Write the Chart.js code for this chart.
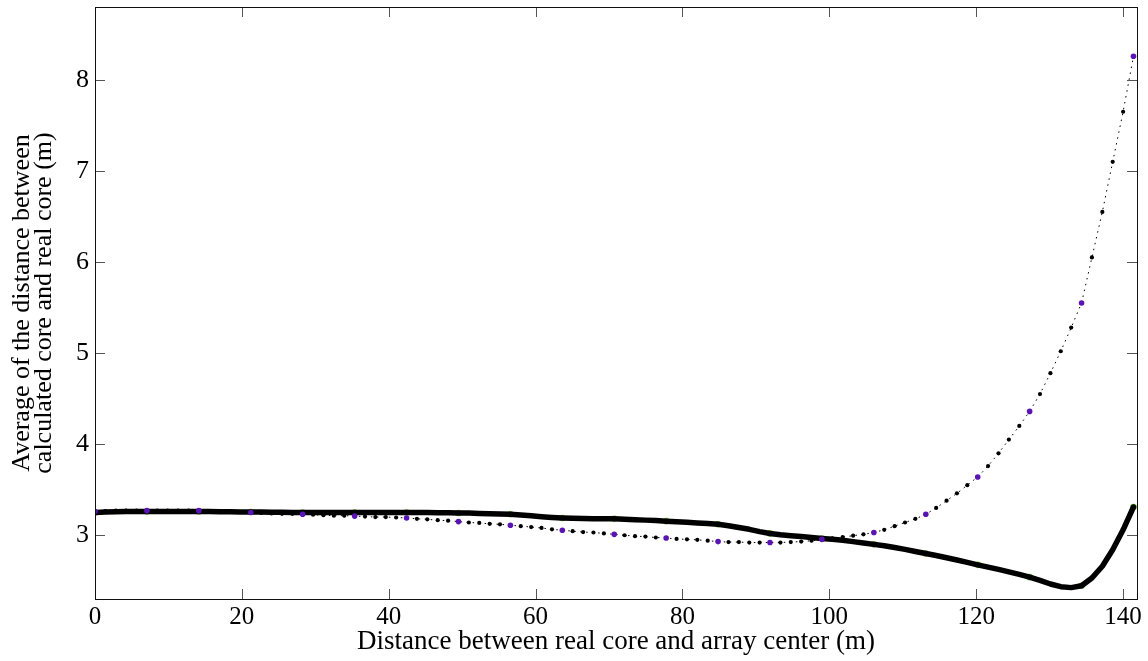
<!DOCTYPE html>
<html>
<head>
<meta charset="utf-8">
<script src="https://cdn.jsdelivr.net/npm/chart.js@4.4.0/dist/chart.umd.min.js"></script>
<style>
	body { margin: 0; background: #fff; }
	#wrap { width: 1148px; height: 661px; }
</style>
</head>
<body>
<div id="wrap"><canvas id="coreChart"></canvas></div>
<script>
// distance between real core and array center (m)
var distances = [
	0, 1.41, 2.83, 4.24, 5.66, 7.07, 8.49, 9.90, 11.31, 12.73,
	14.14, 15.56, 16.97, 18.38, 19.80, 21.21, 22.63, 24.04, 25.46, 26.87,
	28.28, 29.70, 31.11, 32.53, 33.94, 35.36, 36.77, 38.18, 39.60, 41.01,
	42.43, 43.84, 45.25, 46.67, 48.08, 49.50, 50.91, 52.33, 53.74, 55.15,
	56.57, 57.98, 59.40, 60.81, 62.23, 63.64, 65.05, 66.47, 67.88, 69.30,
	70.71, 72.12, 73.54, 74.95, 76.37, 77.78, 79.20, 80.61, 82.02, 83.44,
	84.85, 86.27, 87.68, 89.10, 90.51, 91.92, 93.34, 94.75, 96.17, 97.58,
	98.99, 100.41, 101.82, 103.24, 104.65, 106.07, 107.48, 108.89, 110.31, 111.72,
	113.14, 114.55, 115.97, 117.38, 118.79, 120.21, 121.62, 123.04, 124.45, 125.87,
	127.28, 128.69, 130.11, 131.52, 132.94, 134.35, 135.76, 137.18, 138.59, 140.01,
	141.42
]

// dotted curve
var dottedAvg = [
	3.26, 3.265, 3.27, 3.27, 3.27, 3.27, 3.27, 3.27, 3.27, 3.27,
	3.27, 3.265, 3.26, 3.26, 3.255, 3.25, 3.245, 3.24, 3.235, 3.235,
	3.23, 3.225, 3.22, 3.215, 3.215, 3.21, 3.205, 3.2, 3.2, 3.195,
	3.19, 3.18, 3.175, 3.165, 3.16, 3.15, 3.14, 3.135, 3.125, 3.12,
	3.11, 3.1, 3.09, 3.08, 3.065, 3.055, 3.045, 3.035, 3.03, 3.02,
	3.01, 3.0, 2.99, 2.985, 2.975, 2.97, 2.96, 2.955, 2.95, 2.94,
	2.93, 2.925, 2.925, 2.92, 2.92, 2.92, 2.92, 2.925, 2.93, 2.94,
	2.955, 2.965, 2.98, 2.995, 3.01, 3.03, 3.06, 3.1, 3.14, 3.18,
	3.23, 3.3, 3.38, 3.46, 3.55, 3.64, 3.76, 3.9, 4.05, 4.2,
	4.36, 4.55, 4.78, 5.02, 5.28, 5.55, 6.05, 6.55, 7.1, 7.65,
	8.26
]

// solid curve
var solidAvg = [
	3.25, 3.255, 3.258, 3.26, 3.26, 3.26, 3.26, 3.26, 3.26, 3.26,
	3.26, 3.26, 3.258, 3.257, 3.256, 3.255, 3.254, 3.253, 3.252, 3.251,
	3.25, 3.25, 3.25, 3.25, 3.25, 3.25, 3.25, 3.25, 3.25, 3.25,
	3.25, 3.25, 3.249, 3.248, 3.247, 3.245, 3.243, 3.24, 3.237, 3.234,
	3.23, 3.222, 3.213, 3.204, 3.196, 3.19, 3.186, 3.184, 3.182, 3.181,
	3.18, 3.176, 3.171, 3.166, 3.161, 3.155, 3.149, 3.142, 3.135, 3.128,
	3.12, 3.105, 3.085, 3.065, 3.04, 3.02, 3.005, 2.995, 2.985, 2.975,
	2.965, 2.955, 2.945, 2.93, 2.915, 2.9, 2.885, 2.865, 2.845, 2.822,
	2.8, 2.778, 2.753, 2.728, 2.702, 2.675, 2.65, 2.625, 2.598, 2.57,
	2.54, 2.505, 2.465, 2.435, 2.425, 2.445, 2.53, 2.66, 2.84, 3.06,
	3.31
]

var xTicks = [0, 20, 40, 60, 80, 100, 120, 140]
var yTicks = [3, 4, 5, 6, 7, 8]

function toPoints(xs, ys) {
	return xs.map(function (x, i) { return { x: x, y: ys[i] } })
}

var serif = "'Liberation Serif', 'Times New Roman', serif"

var frameTicks = {
	id: 'frameTicks',
	afterDraw: function (chart) {
		var ctx = chart.ctx
		var a = chart.chartArea
		var sx = chart.scales.x
		var sy = chart.scales.y
		ctx.save()
		ctx.strokeStyle = '#555'
		ctx.lineWidth = 1
		ctx.beginPath()
		xTicks.forEach(function (v) {
			var px = Math.round(sx.getPixelForValue(v)) + 0.5
			ctx.moveTo(px, a.bottom); ctx.lineTo(px, a.bottom - 10)
			ctx.moveTo(px, a.top); ctx.lineTo(px, a.top + 10)
		})
		yTicks.forEach(function (v) {
			var py = Math.round(sy.getPixelForValue(v)) + 0.5
			ctx.moveTo(a.left, py); ctx.lineTo(a.left + 10, py)
			ctx.moveTo(a.right, py); ctx.lineTo(a.right - 10, py)
		})
		ctx.stroke()
		ctx.strokeStyle = '#111'
		ctx.strokeRect(Math.round(a.left) + 0.5, Math.round(a.top) + 0.5, Math.round(a.right - a.left), Math.round(a.bottom - a.top))
		ctx.restore()
	}
}

new Chart(document.getElementById('coreChart'), {
	type: 'scatter',
	data: {
		datasets: [{
			label: 'dotted',
			data: toPoints(distances, dottedAvg),
			showLine: true,
			borderColor: '#000',
			borderWidth: 1,
			borderDash: [1.5, 4.5],
			pointRadius: function (c) { return c.dataIndex % 5 === 0 ? 2.8 : 2.1 },
			pointBackgroundColor: function (c) { return c.dataIndex % 5 === 0 ? '#5a14b4' : '#000' },
			pointBorderWidth: 0
		}, {
			label: 'solid',
			data: toPoints(distances, solidAvg),
			showLine: true,
			borderColor: '#000',
			borderWidth: 5.5,
			borderCapStyle: 'round',
			borderJoinStyle: 'round',
			pointRadius: 0
		}, {
			label: 'solid markers',
			data: toPoints(distances, solidAvg).filter(function (p, i) { return i % 5 === 0 }),
			showLine: false,
			pointRadius: 3.3,
			pointBackgroundColor: '#66b82e',
			pointBorderWidth: 0
		}]
	},
	options: {
		responsive: true,
		maintainAspectRatio: false,
		animation: false,
		devicePixelRatio: 1,
		layout: { padding: { top: 7, right: 11, left: 0, bottom: 0 } },
		plugins: { legend: { display: false }, tooltip: { enabled: false } },
		scales: {
			x: {
				type: 'linear',
				min: 0,
				max: 141.9,
				grid: { display: false, drawTicks: false },
				border: { display: false },
				afterBuildTicks: function (s) { s.ticks = xTicks.map(function (v) { return { value: v } }) },
				afterFit: function (s) { s.height = 62; s.paddingLeft = 0; s.paddingRight = 0 },
				ticks: { color: '#000', padding: 3, maxRotation: 0, font: { family: serif, size: 25 } },
				title: {
					display: true,
					text: 'Distance between real core and array center (m)',
					color: '#000',
					font: { family: serif, size: 27 },
					padding: { top: 0, bottom: 3 }
				}
			},
			y: {
				type: 'linear',
				min: 2.3,
				max: 8.8,
				grid: { display: false, drawTicks: false },
				border: { display: false },
				afterBuildTicks: function (s) { s.ticks = yTicks.map(function (v) { return { value: v } }) },
				afterFit: function (s) { s.width = 95; s.paddingTop = 0; s.paddingBottom = 0 },
				ticks: { color: '#000', padding: 6, font: { family: serif, size: 26 } },
				title: {
					display: true,
					text: ['Average of the distance between', 'calculated core and real core (m)'],
					color: '#000',
					font: { family: serif, size: 26, lineHeight: 0.86 },
					padding: { top: 11, bottom: 0 }
				}
			}
		}
	},
	plugins: [frameTicks]
})
</script>
</body>
</html>
